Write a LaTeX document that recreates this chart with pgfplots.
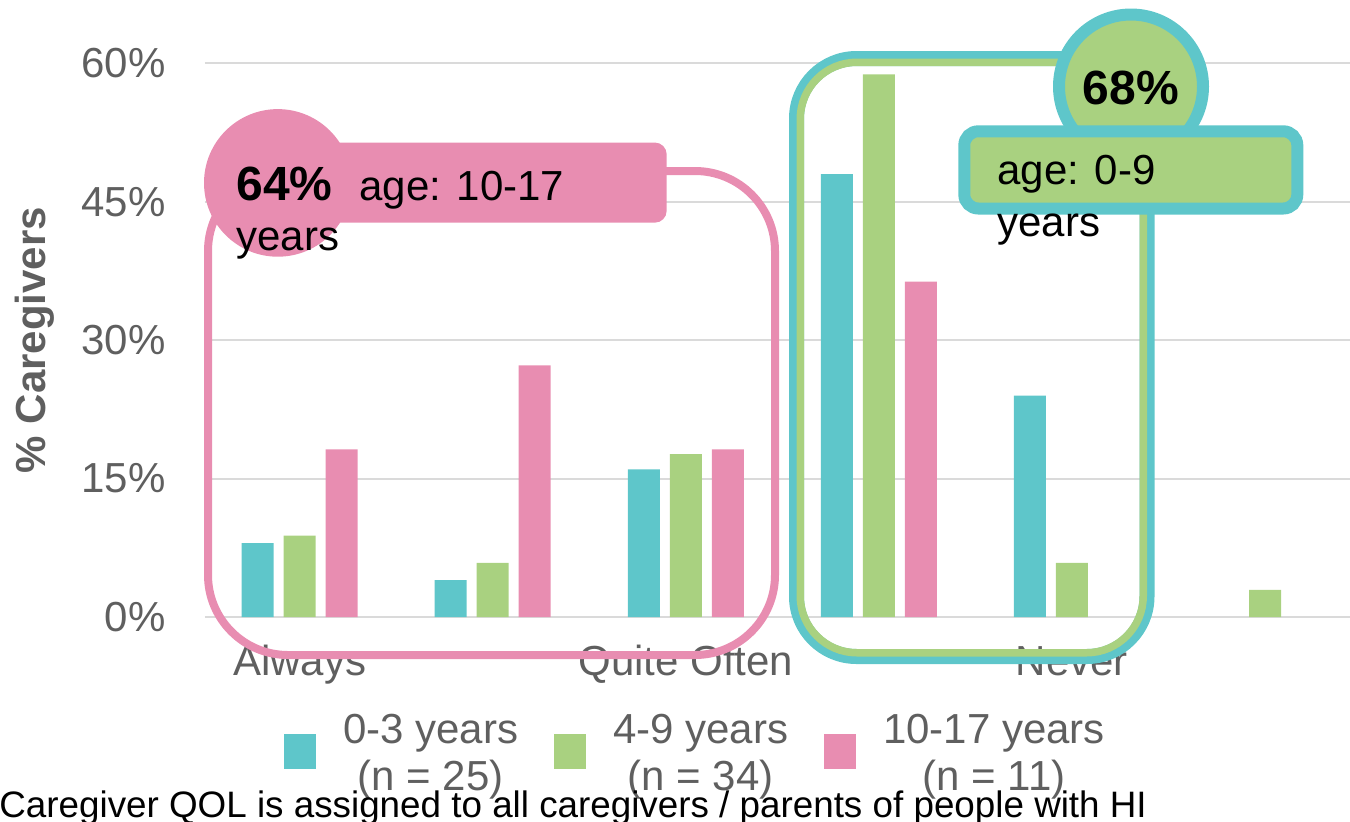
\documentclass[border=0pt]{standalone}
\usepackage{pgfplots}
\pgfplotsset{compat=1.18}
\usepackage{fontspec}
\setmainfont{Liberation Sans}
\definecolor{tealc}{HTML}{5EC6CA}
\definecolor{greenc}{HTML}{A9D180}
\definecolor{pinkc}{HTML}{E88DB1}
\definecolor{txtgray}{HTML}{5F5F5F}
\definecolor{gridgray}{HTML}{DADADA}
\begin{document}
\begin{tikzpicture}
\useasboundingbox (0pt,0pt) rectangle (675pt,-410.5pt);
\begin{axis}[
  at={(102.5pt,-308.5pt)}, anchor=south west,
  scale only axis, width=572.5pt, height=304.5pt,
  xmin=-0.49, xmax=5.44, ymin=0, ymax=66,
  axis line style={draw=none},
  major tick length=0pt,
  tick style={draw=none},
  ymajorgrids, grid style={color=gridgray, line width=1pt},
  ytick={0,15,30,45,60},
  yticklabels={0\%,15\%,30\%,45\%,60\%},
  yticklabel style={anchor=east, inner sep=0pt, xshift=-19.5pt, text=txtgray, font=\fontsize{21}{25}\selectfont},
  xtick={0,2,4},
  xticklabels={Always,Quite Often,Never},
  xticklabel style={anchor=base, inner sep=0pt, yshift=-29pt, text=txtgray, font=\fontsize{21}{25}\selectfont},
  ybar=5pt, bar width=16pt,
  clip=false,
  legend columns=3,
  legend image code/.code={\fill[#1] (0pt,-13.75pt) rectangle (16pt,3.75pt);},
  legend style={draw=none, fill=none, inner sep=0pt, outer sep=0pt,
    at={(0.069,-0.1544)}, anchor=north west,
    nodes={inner sep=0pt, text=txtgray, font=\fontsize{21}{23.5}\selectfont},
    /tikz/every odd column/.append style={column sep=13.5pt},
    /tikz/every even column/.append style={column sep=18pt}},
]
\addplot[fill=tealc, draw=none] coordinates {(0,8) (1,4) (2,16) (3,48) (4,24)};
\addlegendentry{\begin{tabular}[c]{@{}c@{}}0-3 years\\(n = 25)\end{tabular}}
\addplot[fill=greenc, draw=none] coordinates {(0,8.82) (1,5.88) (2,17.65) (3,58.82) (4,5.88) (5,2.94)};
\addlegendentry{\begin{tabular}[c]{@{}c@{}}4-9 years\\(n = 34)\end{tabular}}
\addplot[fill=pinkc, draw=none] coordinates {(0,18.18) (1,27.27) (2,18.18) (3,36.36)};
\addlegendentry{\begin{tabular}[c]{@{}c@{}}10-17 years\\(n = 11)\end{tabular}}
\end{axis}
\begin{scope}[x=0.5pt,y=-0.5pt]
% y axis title
\node[rotate=90, anchor=base, inner sep=0pt, text=txtgray, font=\bfseries\fontsize{21}{25}\selectfont] at (46,340) {\% Caregivers};
% caption
\node[anchor=base west, inner sep=0pt, font=\fontsize{18.4}{22}\selectfont] at (-1,817) {Caregiver QOL is assigned to all caregivers / parents of people with HI};
% pink annotation
\draw[pinkc, line width=4pt, rounded corners=40pt] (208,171) rectangle (775,655);
\fill[pinkc] (277.8,182.9) circle[radius=36.9pt];
\fill[pinkc, rounded corners=6pt] (277,142.5) rectangle (666.7,222.7);
\node[anchor=base west, inner sep=0pt, font=\bfseries\fontsize{24}{28}\selectfont] at (236,200.7) {64\%};
\node[anchor=base west, inner sep=0pt, font=\fontsize{21}{25}\selectfont] at (359,200.7) {age: 10-17};
\node[anchor=base west, inner sep=0pt, font=\fontsize{21}{25}\selectfont] at (236,250) {years};
% teal/green annotation
\draw[tealc, line width=7.5pt, rounded corners=30pt] (796.5,58.5) rectangle (1147,656.5);
\draw[greenc, line width=3.75pt, rounded corners=28.4pt] (800.25,62.25) rectangle (1143.25,652.75);
\filldraw[fill=greenc, draw=tealc, line width=6pt] (1131,86.5) circle[radius=36pt];
\node[anchor=base, inner sep=0pt, font=\bfseries\fontsize{24}{28}\selectfont] at (1131,104.7) {68\%};
\filldraw[fill=greenc, draw=tealc, line width=6pt, rounded corners=7pt] (964.3,131.3) rectangle (1297.3,208.5);
\node[anchor=base west, inner sep=0pt, font=\fontsize{21}{25}\selectfont] at (997,184.6) {age: 0-9};
\node[anchor=base west, inner sep=0pt, font=\fontsize{21}{25}\selectfont] at (997,236) {years};
\end{scope}
\end{tikzpicture}
\end{document}
